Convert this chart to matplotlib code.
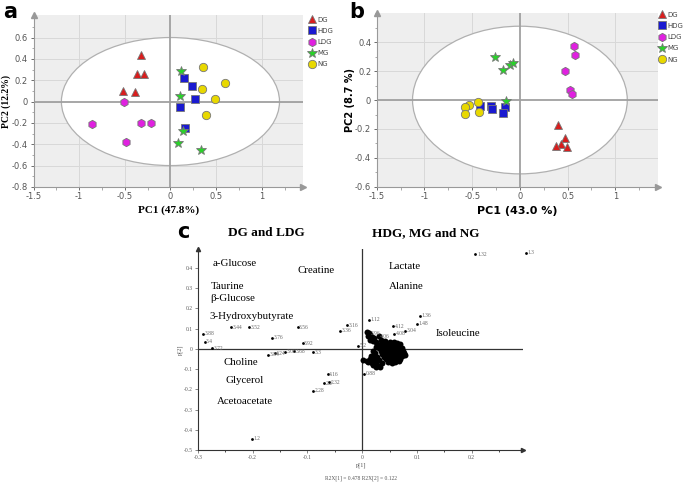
import matplotlib
matplotlib.use("Agg")
import matplotlib.pyplot as plt
from matplotlib.patches import Ellipse
from matplotlib.ticker import MultipleLocator

# ---- panel a / b score data ----
groups = ['DG', 'HDG', 'LDG', 'MG', 'NG']
colors = {'DG': '#d81e1e', 'HDG': '#1a1ad0', 'LDG': '#e020e0', 'MG': '#2ad12a', 'NG': '#e8d800'}
markers = {'DG': '^', 'HDG': 's', 'LDG': 'h', 'MG': '*', 'NG': 'o'}
msizes = {'DG': 6, 'HDG': 5.2, 'LDG': 6, 'MG': 7.5, 'NG': 6}

a_x = {
    'DG': [-0.32, -0.365, -0.293, -0.52, -0.383],
    'HDG': [0.15, 0.24, 0.265, 0.103, 0.157],
    'LDG': [-0.513, -0.859, -0.322, -0.214, -0.488],
    'MG': [0.114, 0.103, 0.143, 0.085, 0.337],
    'NG': [0.362, 0.593, 0.341, 0.492, 0.391],
}
a_y = {
    'DG': [0.44, 0.26, 0.26, 0.10, 0.09],
    'HDG': [0.225, 0.15, 0.02, -0.05, -0.25],
    'LDG': [0.0, -0.21, -0.2, -0.2, -0.375],
    'MG': [0.285, 0.053, -0.275, -0.39, -0.45],
    'NG': [0.325, 0.175, 0.115, 0.025, -0.13],
}
b_x = {
    'DG': [0.398, 0.476, 0.434, 0.380, 0.494],
    'HDG': [-0.421, -0.307, -0.289, -0.154, -0.172],
    'LDG': [0.566, 0.58, 0.473, 0.53, 0.548],
    'MG': [-0.261, -0.179, -0.108, -0.072, -0.143],
    'NG': [-0.439, -0.538, -0.578, -0.574, -0.432],
}
b_y = {
    'DG': [-0.173, -0.261, -0.305, -0.319, -0.323],
    'HDG': [-0.042, -0.042, -0.06, -0.051, -0.092],
    'LDG': [0.372, 0.314, 0.199, 0.069, 0.039],
    'MG': [0.298, 0.21, 0.242, 0.256, -0.009],
    'NG': [-0.012, -0.032, -0.051, -0.099, -0.083],
}

# ---- panel c loadings ----
load_labels = ['1.32', '1.3', '1.12', '1.36', '1.48', '4.12', '3.04', '4.08', '3.16', '3.36',
               '5.2', '0.88', '3.88', '3.4', '3.72', '3.44', '3.52', '3.76', '3.56', '3.92',
               '3.84', '4.24', '3.08', '3.68', '3.3', '4.16', '2.32', '2.2', '2.28', '1.2',
               '3.96', '4.06']
load_x = [0.207, 0.299, 0.012, 0.106, 0.100, 0.057, 0.079, 0.058, -0.028, -0.040,
          -0.007, 0.003, -0.290, -0.288, -0.275, -0.239, -0.207, -0.165, -0.118, -0.109,
          -0.172, -0.160, -0.141, -0.125, -0.090, -0.063, -0.060, -0.069, -0.089, -0.201,
          0.012, 0.030]
load_y = [0.469, 0.477, 0.144, 0.165, 0.125, 0.111, 0.091, 0.074, 0.117, 0.089,
          0.015, -0.124, 0.074, 0.035, 0.003, 0.107, 0.107, 0.056, 0.107, 0.028,
          -0.030, -0.021, -0.015, -0.012, -0.017, -0.125, -0.165, -0.170, -0.206, -0.444,
          0.078, 0.060]

cluster_x = [0.008, 0.012, 0.015, 0.010, 0.018, 0.022, 0.014, 0.020, 0.026, 0.030, 0.034, 0.028,
             0.038, 0.042, 0.045,
             0.032, 0.038, 0.044, 0.050, 0.056, 0.062, 0.068, 0.072,
             0.030, 0.036, 0.042, 0.048, 0.054, 0.060, 0.066, 0.074,
             0.034, 0.040, 0.046, 0.052, 0.058, 0.064, 0.070,
             0.036, 0.042, 0.048, 0.054, 0.060, 0.066, 0.072,
             0.040, 0.046, 0.052, 0.058, 0.064, 0.070,
             0.044, 0.050, 0.056, 0.062, 0.068,
             0.048, 0.054, 0.060,
             0.050, 0.058, 0.064, 0.044, 0.070, 0.076, 0.078,
             0.002, 0.008, 0.014, 0.010, 0.018, 0.024, 0.020, 0.028, 0.032, 0.026, 0.036,
             0.030, 0.022, 0.016, 0.028, 0.020, 0.024, 0.026]
cluster_y = [0.085, 0.078, 0.070, 0.062, 0.058, 0.052, 0.045, 0.040, 0.035, 0.062, 0.045, 0.025,
             0.030, 0.038, 0.025,
             0.018, 0.012, 0.016, 0.020, 0.024, 0.018, 0.012, 0.004,
             0.004, 0.000, 0.006, 0.002, 0.008, 0.004, -0.002, -0.008,
             -0.010, -0.014, -0.008, -0.012, -0.006, -0.014, -0.020,
             -0.024, -0.028, -0.022, -0.026, -0.020, -0.030, -0.036,
             -0.038, -0.042, -0.036, -0.040, -0.046, -0.050,
             -0.052, -0.056, -0.050, -0.058, -0.062,
             -0.064, -0.068, -0.066,
             0.032, 0.036, 0.030, 0.028, 0.024, -0.018, -0.030,
             -0.055, -0.058, -0.052, -0.066, -0.070, -0.064, -0.080, -0.078, -0.088, -0.092, -0.070,
             -0.056, -0.045, -0.035, -0.040, -0.010, -0.020, 0.008]

metab_left = ['a-Glucose', 'Creatine', 'Taurine', 'β-Glucose', '3-Hydroxybutyrate',
              'Choline', 'Glycerol', 'Acetoacetate']
metab_left_pos = [(-0.273, 0.421), (-0.119, 0.386), (-0.277, 0.307), (-0.277, 0.249),
                  (-0.279, 0.158), (-0.254, -0.069), (-0.250, -0.158), (-0.265, -0.26)]
metab_right = ['Lactate', 'Alanine', 'Isoleucine']
metab_right_pos = [(0.048, 0.407), (0.048, 0.307), (0.134, 0.074)]

fig = plt.figure(figsize=(6.85, 4.88), dpi=100)
serif = ['Liberation Serif', 'DejaVu Serif']


def score_panel(rect, xs, ys, ylim, yticks, ell_w, ell_h, xlab, ylab, lab_family, leg_x, leg_y, ylab_x):
    ax = fig.add_axes(rect)
    ax.set_facecolor('#eeeeee')
    ax.set_xlim(-1.5, 1.45)
    ax.set_ylim(*ylim)
    for v in [-1, -0.5, 0.5, 1]:
        ax.axvline(v, color='#d8d8d8', lw=0.7, zorder=0.5)
    for v in yticks:
        ax.axhline(v, color='#d8d8d8', lw=0.7, zorder=0.5)
    ax.add_patch(Ellipse((0, 0), ell_w, ell_h, facecolor='white', edgecolor='#b0b0b0', lw=0.9, zorder=1))
    ax.axhline(0, color='#a0a0a0', lw=1.3, zorder=1.5)
    ax.axvline(0, color='#a0a0a0', lw=1.3, zorder=1.5)
    handles = []
    for g in groups:
        h, = ax.plot(xs[g], ys[g], ls='none', marker=markers[g], ms=msizes[g],
                     mfc=colors[g], mec='#777777', mew=0.6, zorder=3, label=g)
        handles.append(h)
    ax.set_xticks([-1.5, -1, -0.5, 0, 0.5, 1])
    ax.set_xticklabels(['-1.5', '-1', '-0.5', '0', '0.5', '1'])
    ax.set_yticks(yticks)
    ax.set_yticklabels([('%g' % v) for v in yticks])
    ax.xaxis.set_minor_locator(MultipleLocator(0.25))
    ax.yaxis.set_minor_locator(MultipleLocator(0.1))
    ax.tick_params(labelsize=6, colors='#555555', length=2.5, width=0.6, pad=1.5)
    ax.tick_params(which='minor', length=1.8, width=0.5, colors='#888888')
    for s in ['top', 'right']:
        ax.spines[s].set_visible(False)
    for s in ['left', 'bottom']:
        ax.spines[s].set_color('#999999')
    ax.plot([1], [0], '>', transform=ax.transAxes, clip_on=False, color='#999999', ms=4)
    ax.plot([0], [1], '^', transform=ax.transAxes, clip_on=False, color='#999999', ms=4)
    ax.set_xlabel(xlab, fontsize=8, fontweight='bold', family=lab_family, labelpad=3)
    ax.set_ylabel(ylab, fontsize=7, fontweight='bold', family=lab_family)
    ax.yaxis.set_label_coords(ylab_x, 0.5)
    fig.legend(handles=handles, loc='upper left', bbox_to_anchor=(leg_x, leg_y),
               frameon=False, fontsize=5, handlelength=0.9, handletextpad=0.25,
               labelspacing=0.75, borderpad=0.0, borderaxespad=0.0, labelcolor='#444444')
    return ax


score_panel([0.049, 0.617, 0.393, 0.352], a_x, a_y, (-0.8, 0.81),
            [-0.8, -0.6, -0.4, -0.2, 0, 0.2, 0.4, 0.6], 2.39, 1.2,
            'PC1 (47.8%)', 'PC2 (12.2%)', serif, 0.451, 0.966, -0.083)
score_panel([0.550, 0.617, 0.411, 0.356], b_x, b_y, (-0.6, 0.6),
            [-0.6, -0.4, -0.2, 0, 0.2, 0.4], 2.25, 1.02,
            'PC1 (43.0 %)', 'PC2 (8.7 %)', ['DejaVu Sans'], 0.962, 0.976, -0.078)

fig.text(0.005, 0.975, 'a', fontsize=15, fontweight='bold', va='center')
fig.text(0.51, 0.975, 'b', fontsize=15, fontweight='bold', va='center')
fig.text(0.258, 0.525, 'c', fontsize=15, fontweight='bold', va='center')

# ---- panel c ----
axc = fig.add_axes([0.289, 0.078, 0.475, 0.412])
axc.set_xlim(-0.3, 0.2945)
axc.set_ylim(-0.5, 0.495)
axc.axhline(0, color='#333333', lw=0.9)
axc.axvline(0, color='#333333', lw=0.9)
axc.plot(cluster_x, cluster_y, 'o', color='black', ms=4.3, mew=0)
axc.plot(load_x, load_y, 'o', color='black', ms=2, mew=0, clip_on=False)
for t, x, y in zip(load_labels, load_x, load_y):
    axc.text(x + 0.003, y, t, fontsize=4, color='#666666', va='center', family=serif)
for t, (x, y) in zip(metab_left + metab_right, metab_left_pos + metab_right_pos):
    axc.text(x, y, t, fontsize=7.8, family=serif, va='center', ha='left')
axc.set_xticks([-0.3, -0.2, -0.1, 0, 0.1, 0.2])
axc.set_xticklabels(['-0.3', '-0.2', '-0.1', '0', '0.1', '0.2'])
axc.xaxis.set_minor_locator(MultipleLocator(0.05))
axc.set_yticks([-0.5, -0.4, -0.3, -0.2, -0.1, 0, 0.1, 0.2, 0.3, 0.4])
axc.set_yticklabels(['-0.5', '-0.4', '-0.3', '-0.2', '-0.1', '0', '0.1', '0.2', '0.3', '0.4'])
axc.tick_params(labelsize=4, colors='#555555', length=2, width=0.5, pad=1.5)
axc.tick_params(which='minor', length=1.5, width=0.5)
for lab in axc.get_xticklabels() + axc.get_yticklabels():
    lab.set_family(serif)
for s in ['top', 'right']:
    axc.spines[s].set_visible(False)
for s in ['left', 'bottom']:
    axc.spines[s].set_color('#333333')
    axc.spines[s].set_linewidth(0.8)
axc.plot([1], [0], '>', transform=axc.transAxes, clip_on=False, color='#333333', ms=3)
axc.plot([0], [1], '^', transform=axc.transAxes, clip_on=False, color='#333333', ms=3)
axc.set_xlabel('p[1]', fontsize=4.5, family=serif, color='#555555', labelpad=2)
axc.text(0.5, -0.139, 'R2X[1] = 0.478 R2X[2] = 0.122', transform=axc.transAxes,
         ha='center', va='center', fontsize=4, family=serif, color='#555555')
axc.set_ylabel('p[2]', fontsize=4.5, family=serif, color='#555555', labelpad=1)

fig.text(0.389, 0.523, 'DG and LDG', fontsize=9.5, fontweight='bold', family=serif, ha='center', va='center')
fig.text(0.622, 0.523, 'HDG, MG and NG', fontsize=9.5, fontweight='bold', family=serif, ha='center', va='center')

fig.savefig('out.png', dpi=100)
